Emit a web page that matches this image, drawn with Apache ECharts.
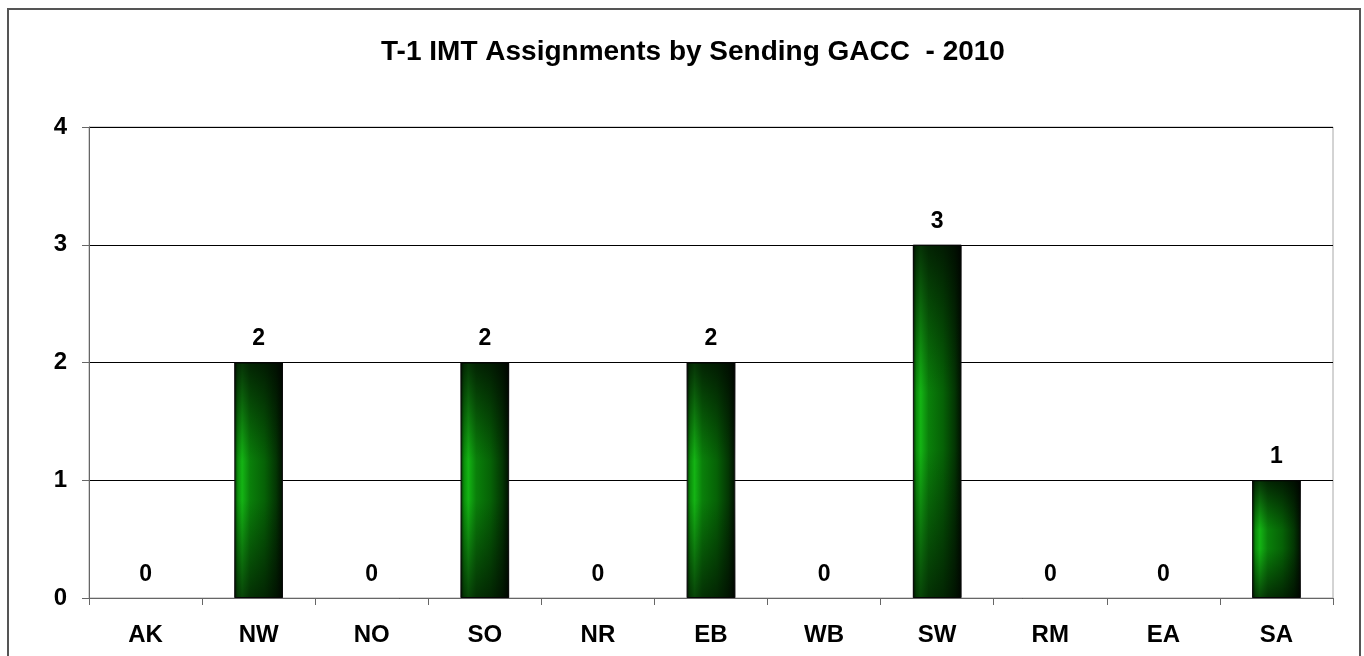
<!DOCTYPE html>
<html>
<head>
<meta charset="utf-8">
<script src="https://cdn.jsdelivr.net/npm/echarts@6/dist/echarts.min.js"></script>
<style>
  html, body { margin: 0; padding: 0; background: #fff; }
  #chart { width: 1364px; height: 656px; }
</style>
</head>
<body>
<div id="chart"></div>
<script>
// Sending GACC regions and number of T-1 IMT assignments in 2010
const regions = ['AK', 'NW', 'NO', 'SO', 'NR', 'EB', 'WB', 'SW', 'RM', 'EA', 'SA'];
const assignments = [0, 2, 0, 2, 0, 2, 0, 3, 0, 0, 1];
const yTicks = [0, 1, 2, 3, 4];
const titleText = 'T-1 IMT Assignments by Sending GACC  - 2010';

const FONT = '"Liberation Sans", Arial, sans-serif';

const chart = echarts.init(document.getElementById('chart'), null, { renderer: 'canvas' });

// Green shading across the bar width: bright strip near the left edge
const barFill = new echarts.graphic.LinearGradient(0, 0, 1, 0, [
  { offset: 0.00, color: '#002400' },
  { offset: 0.07, color: '#0b8d0b' },
  { offset: 0.16, color: '#14b414' },
  { offset: 0.32, color: '#0a800a' },
  { offset: 0.62, color: '#066206' },
  { offset: 0.86, color: '#033603' },
  { offset: 1.00, color: '#010e01' }
]);
// Darkening toward the top and bottom ends of each bar
const endShade = new echarts.graphic.LinearGradient(0, 0, 0, 1, [
  { offset: 0.00, color: 'rgba(0,0,0,0.72)' },
  { offset: 0.42, color: 'rgba(0,0,0,0)' },
  { offset: 0.58, color: 'rgba(0,0,0,0)' },
  { offset: 1.00, color: 'rgba(0,0,0,0.62)' }
]);

// Empty bars get no outline so no stray line sits on the axis
const barData = assignments.map(v => ({
  value: v,
  itemStyle: { borderWidth: v > 0 ? 1 : 0 }
}));

chart.setOption({
  animation: false,
  backgroundColor: '#ffffff',
  title: {
    text: titleText,
    left: 688,
    top: 33,
    textAlign: 'center',
    textStyle: { fontFamily: FONT, fontWeight: 'bold', fontSize: 28, color: '#000' }
  },
  graphic: [{
    type: 'rect',
    shape: { x: 8, y: 9, width: 1352, height: 700 },
    style: { fill: 'none', stroke: '#555', lineWidth: 2 },
    silent: true,
    z: 100
  }],
  grid: {
    left: 89, right: 31, top: 127, bottom: 58,
    show: true, borderColor: '#a8a8a8', borderWidth: 1, backgroundColor: 'transparent'
  },
  xAxis: {
    type: 'category',
    data: regions,
    axisLine: { show: true, lineStyle: { color: '#666', width: 1 } },
    axisTick: { show: true, length: 7, lineStyle: { color: '#666' } },
    axisLabel: { margin: 25, fontFamily: FONT, fontWeight: 'bold', fontSize: 24, color: '#000' },
    splitLine: { show: false }
  },
  yAxis: {
    type: 'value',
    min: yTicks[0],
    max: yTicks[yTicks.length - 1],
    interval: 1,
    axisLine: { show: true, lineStyle: { color: '#666', width: 1 } },
    axisTick: { show: true, length: 7, inside: false, lineStyle: { color: '#666' } },
    axisLabel: { margin: 22, fontFamily: FONT, fontWeight: 'bold', fontSize: 24, color: '#000' },
    splitLine: { show: true, lineStyle: { color: '#000', width: 1 } }
  },
  series: [
    {
      type: 'bar',
      data: barData,
      barWidth: '43%',
      itemStyle: { color: barFill, borderColor: '#111' },
      label: {
        show: true,
        position: 'top',
        distance: 12,
        fontFamily: FONT, fontWeight: 'bold', fontSize: 23, color: '#000'
      },
      z: 3
    },
    {
      type: 'bar',
      data: assignments,
      barWidth: '43%',
      barGap: '-100%',
      itemStyle: { color: endShade, borderWidth: 0 },
      label: { show: false },
      silent: true,
      z: 4
    }
  ]
});
</script>
</body>
</html>
